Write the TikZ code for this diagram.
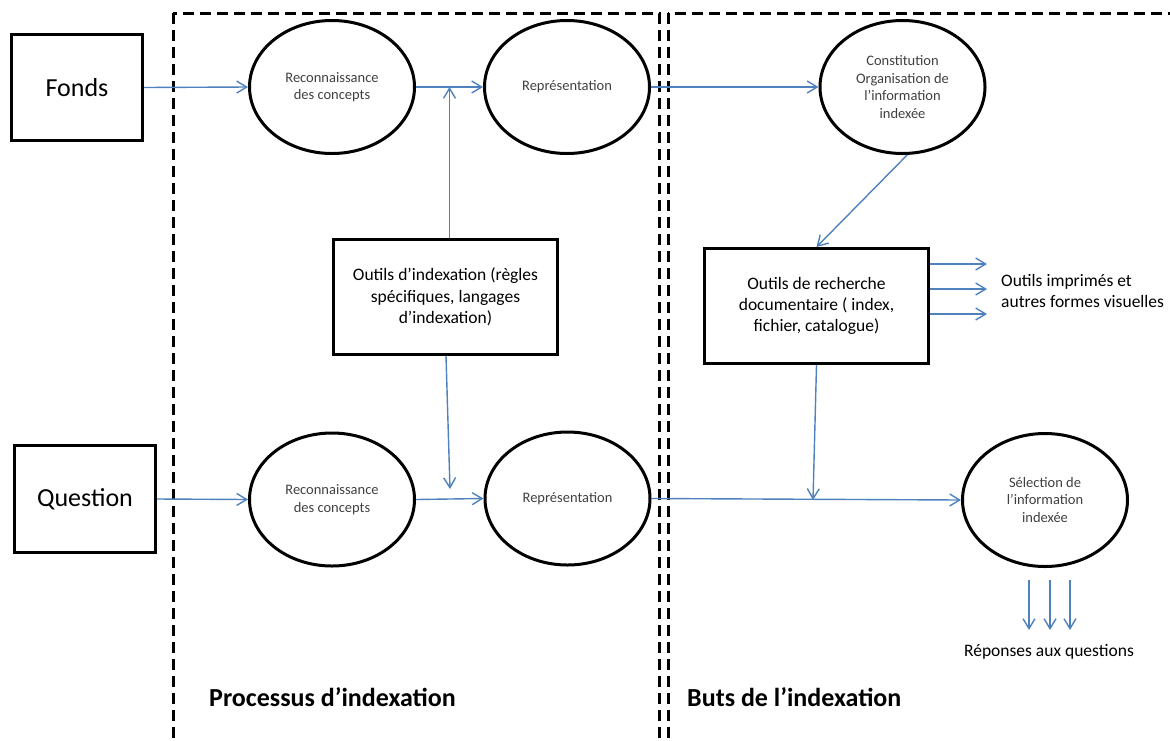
\documentclass[tikz,border=0pt]{standalone}
\usepackage{fontspec}
\setmainfont{Carlito}
\usetikzlibrary{arrows.meta,shapes.geometric}
\definecolor{arrowblue}{RGB}{79,129,189}
\definecolor{elltext}{RGB}{64,64,64}
\begin{document}
\begin{tikzpicture}[x=1pt,y=-1pt,
  ell/.style={ellipse,draw=black,line width=3pt,minimum width=165pt,minimum height=133pt,inner sep=0pt,align=center,font=\fontsize{14.5}{17.6}\selectfont,text=elltext},
  bigbox/.style={rectangle,draw=black,line width=3pt,inner sep=0pt,font=\fontsize{26}{30}\selectfont},
  toolbox/.style={rectangle,draw=black,line width=3pt,minimum width=224pt,minimum height=115pt,inner sep=0pt,align=center,font=\fontsize{17.5}{21.3}\selectfont},
  conn/.style={draw=arrowblue,line width=1.4pt,-{Straight Barb[length=10pt,width=12pt]}},
  frame/.style={draw=black,line width=3pt,dash pattern=on 11pt off 6pt},
  plain/.style={inner sep=0pt,font=\fontsize{17.5}{21.3}\selectfont},
  title/.style={inner sep=0pt,font=\fontsize{26}{30}\selectfont\bfseries},
]
\useasboundingbox (0,0) rectangle (1170,740);
\begin{scope}
  \clip (0,0) rectangle (1170,740);
  \draw[frame] (173,13) rectangle (659,770);
  \draw[frame] (668,13) rectangle (1195,770);
\end{scope}

\node[bigbox,minimum width=131pt,minimum height=106pt] (fonds) at (77,87.5) {Fonds};
\node[bigbox,minimum width=141pt,minimum height=107pt] (question) at (85,499) {Question};
\node[ell] (reco1) at (332,87) {Reconnaissance\\des concepts};
\node[ell] (repr1) at (567,87) {Représentation};
\node[ell] (const) at (902.5,87) {Constitution\\Organisation de\\l’information\\indexée};
\node[toolbox] (outind) at (445.5,297) {Outils d’indexation (règles\\spécifiques, langages\\d’indexation)};
\node[toolbox] (outrech) at (816.5,306) {Outils de recherche\\documentaire ( index,\\fichier, catalogue)};
\node[ell] (reco2) at (332,499.5) {Reconnaissance\\des concepts};
\node[ell] (repr2) at (567.5,498.5) {Représentation};
\node[ell] (sel) at (1045,500) {Sélection de\\l’information\\indexée};
\node[plain,anchor=west,align=left] (imprimes) at (1001,291) {Outils imprimés et\\autres formes visuelles};
\node[plain,anchor=base] (reponses) at (1049,656) {Réponses aux questions};
\node[title,anchor=base west] (proc) at (209,706) {Processus d’indexation};
\node[title,anchor=base west] (buts) at (687,706) {Buts de l’indexation};

\coordinate (j1) at (449.5,87);
\coordinate (j2) at (450,489);
\coordinate (j3) at (813,500);
\coordinate (i1) at (987,264);
\coordinate (i2) at (987,289);
\coordinate (i3) at (987,314);
\coordinate (d1s) at (1029,580);
\coordinate (d1e) at (1029,630);
\coordinate (d2s) at (1050,580);
\coordinate (d2e) at (1050,630);
\coordinate (d3s) at (1070,580);
\coordinate (d3e) at (1070,630);

\draw[conn] (fonds.east) -- (reco1.west);
\draw[conn] (reco1.east) -- (repr1.west);
\draw[conn] (repr1.east) -- (const.west);
\draw[conn] (outind.north -| j1) -- (j1);
\draw[conn] (const.-86) -- (outrech.north);
\draw[conn] (outrech.east |- i1) -- (i1);
\draw[conn] (outrech.east |- i2) -- (i2);
\draw[conn] (outrech.east |- i3) -- (i3);
\draw[conn] ([xshift=0.5pt]outind.south) -- (j2);
\draw[conn] (question.east) -- (reco2.west);
\draw[conn] (reco2.east) -- (repr2.west);
\draw[conn] (repr2.east) -- (sel.west);
\draw[conn] (outrech.south) -- (j3);
\draw[conn] (d1s) -- (d1e);
\draw[conn] (d2s) -- (d2e);
\draw[conn] (d3s) -- (d3e);
\end{tikzpicture}
\end{document}
